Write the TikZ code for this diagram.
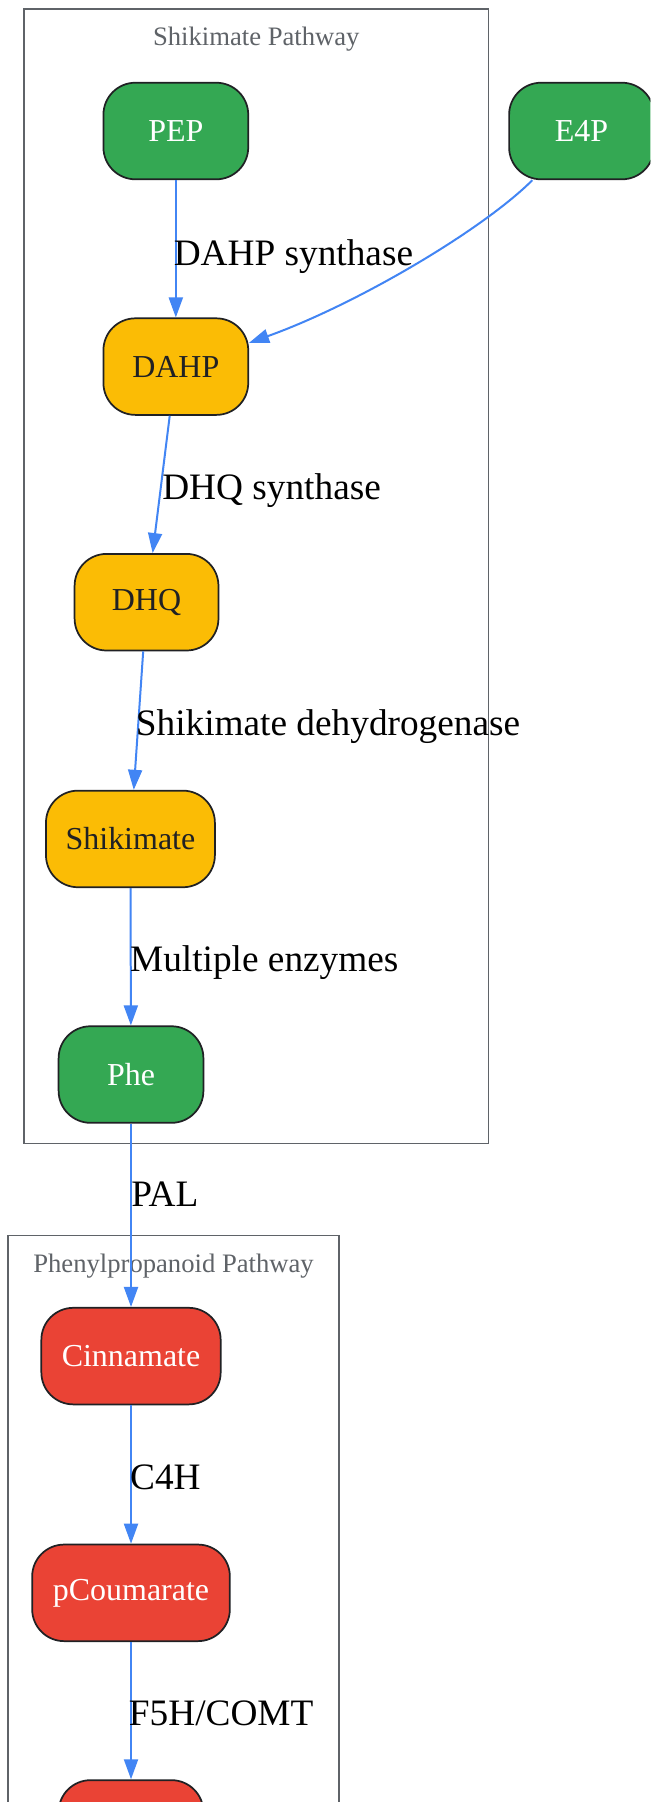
\documentclass[tikz,border=0pt]{standalone}
\usepackage{fontspec}
\setmainfont{Liberation Serif}
\usetikzlibrary{arrows.meta}
\definecolor{gGreen}{HTML}{34A853}
\definecolor{gYellow}{HTML}{FBBC05}
\definecolor{gRed}{HTML}{EA4335}
\definecolor{gBlue}{HTML}{4285F4}
\definecolor{gGray}{HTML}{5F6368}
\definecolor{gDark}{HTML}{202124}
\tikzset{
  nodebox/.style={draw=gDark, line width=1.3pt, rounded corners=24pt, minimum height=72.5pt, inner sep=0pt, font=\fontsize{24}{28}\selectfont},
  greenbox/.style={nodebox, fill=gGreen, text=white},
  yellowbox/.style={nodebox, fill=gYellow, text=gDark},
  redbox/.style={nodebox, fill=gRed, text=white},
  cluster/.style={draw=gGray, line width=1.3pt},
  clabel/.style={text=gGray, font=\fontsize{20}{24}\selectfont, anchor=base, inner sep=0pt},
  edge/.style={draw=gBlue, line width=1.5pt, -{Triangle[length=15pt,width=10.5pt]}},
  elabel/.style={font=\fontsize{28}{32}\selectfont, anchor=base west, inner sep=0pt, text=black}
}
\begin{document}
\begin{tikzpicture}[x=0.8627pt,y=-0.8627pt]
\useasboundingbox (0,0) rectangle (566,1568);
\clip (0,0) rectangle (566,1568);
\fill[white] (0,0) rectangle (566,1568);
% clusters
\draw[cluster] (21,8) rectangle (425,995);
\node[clabel] (c1) at (223,40) {Shikimate Pathway};
\draw[cluster] (7,1075) rectangle (295,1620);
\node[clabel] (c2) at (151,1107) {Phenylpropanoid Pathway};
% nodes
\node[greenbox, minimum width=108.7pt] (pep) at (153,114) {PEP};
\node[greenbox, minimum width=108.7pt] (e4p) at (506,114) {E4P};
\node[yellowbox, minimum width=108.7pt] (dahp) at (153,319) {DAHP};
\node[yellowbox, minimum width=108pt] (dhq) at (127.5,524) {DHQ};
\node[yellowbox, minimum width=126.8pt] (shik) at (113.5,730) {Shikimate};
\node[greenbox, minimum width=108.7pt] (phe) at (114,935) {Phe};
\node[redbox, minimum width=134.6pt] (cin) at (114,1180) {Cinnamate};
\node[redbox, minimum width=148.4pt] (pcou) at (114,1386) {pCoumarate};
\node[redbox, minimum width=108.7pt] (last) at (114,1591) {};
% edges
\draw[edge] (pep) -- (dahp);
\draw[edge] (e4p.225) .. controls (420,200) and (310,265) .. (dahp.18.7);
\draw[edge] (dahp) -- (dhq);
\draw[edge] (dhq) -- (shik);
\draw[edge] (shik) -- (phe);
\draw[edge] (phe) -- (cin);
\draw[edge] (cin) -- (pcou);
\draw[edge] (pcou) -- (last);
% edge labels
\node[elabel] (l1) at (151,231) {DAHP synthase};
\node[elabel] (l2) at (141,435) {DHQ synthase};
\node[elabel] (l3) at (118,640) {Shikimate dehydrogenase};
\node[elabel] (l4) at (113,845) {Multiple enzymes};
\node[elabel] (l5) at (114,1050) {PAL};
\node[elabel] (l6) at (113,1296) {C4H};
\node[elabel] (l7) at (112,1501) {F5H/COMT};
\end{tikzpicture}
\end{document}
